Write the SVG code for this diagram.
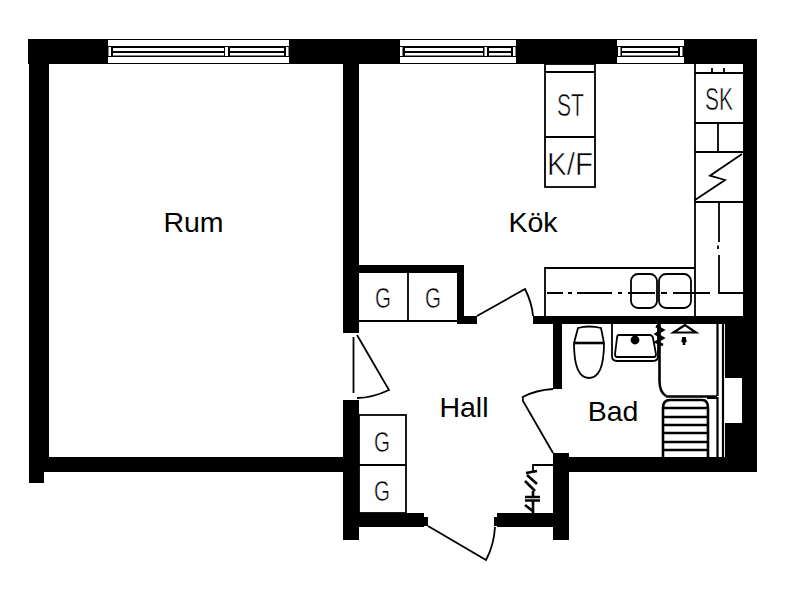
<svg xmlns="http://www.w3.org/2000/svg" width="787" height="590" viewBox="0 0 787 590">
<style>
.w{fill:#000}
.wh{fill:#fff}
.l{fill:none;stroke:#000;stroke-width:1.8}
.t{fill:none;stroke:#000;stroke-width:2.6}
.lab{font-family:"Liberation Sans",Arial,sans-serif;font-size:28.500px;fill:#000;text-anchor:middle}
.fix{font-family:"Liberation Sans",Arial,sans-serif;fill:#000;stroke:#fff;stroke-width:.6}
</style>
<rect width="787" height="590" fill="#fff"/>
<g id="walls" class="w">
<rect x="28" y="39" width="729" height="25"/>
<rect x="29" y="60" width="20" height="412"/>
<rect x="29" y="457" width="15" height="26"/>
<rect x="29" y="457" width="316" height="15"/>
<rect x="343" y="60" width="16" height="273"/>
<rect x="743" y="60" width="14" height="270"/>
<rect x="359" y="265" width="105" height="8"/>
<rect x="457" y="265" width="7" height="59"/>
<rect x="457" y="316" width="20" height="8"/>
<rect x="533" y="316" width="214" height="8"/>
<rect x="553" y="316" width="9" height="73"/>
<rect x="725" y="316" width="32" height="156"/>
<rect x="553" y="457" width="204" height="15"/>
<rect x="553" y="453" width="16" height="87"/>
<rect x="343" y="400" width="16" height="140"/>
<rect x="343" y="513" width="81" height="14"/>
<rect x="424" y="517" width="4" height="9"/>
<rect x="497" y="513" width="60" height="14"/>
<rect x="494" y="517" width="4" height="9"/>
<rect x="725" y="378" width="17" height="45" class="wh"/>
</g>
<g id="window-1">
<rect x="108" y="40" width="181" height="6" class="wh"/><rect x="108" y="57" width="181" height="6" class="wh"/>
<rect x="108.500" y="47" width="2.500" height="9" class="wh"/><rect x="286" y="47" width="2.500" height="9" class="wh"/><rect x="225" y="47" width="3" height="9" class="wh"/>
<rect x="113" y="48" width="111" height="3" class="wh"/><rect x="113" y="53" width="111" height="2.500" class="wh"/>
<rect x="230" y="48" width="54" height="3" class="wh"/><rect x="230" y="53" width="54" height="2.500" class="wh"/>
</g>
<g id="window-2">
<rect x="400" y="40" width="116" height="6" class="wh"/><rect x="400" y="57" width="116" height="6" class="wh"/>
<rect x="400" y="47" width="2.500" height="9" class="wh"/><rect x="513" y="47" width="2.500" height="9" class="wh"/><rect x="484.500" y="47" width="2.500" height="9" class="wh"/>
<rect x="405" y="48" width="78" height="3" class="wh"/><rect x="405" y="53" width="78" height="2.500" class="wh"/>
<rect x="489" y="48" width="22" height="3" class="wh"/><rect x="489" y="53" width="22" height="2.500" class="wh"/>
</g>
<g id="window-3">
<rect x="617" y="40" width="67" height="6" class="wh"/><rect x="617" y="57" width="67" height="6" class="wh"/>
<rect x="618" y="47" width="2.500" height="9" class="wh"/><rect x="680" y="47" width="2.500" height="9" class="wh"/>
<rect x="622" y="48" width="56" height="3" class="wh"/><rect x="622" y="53" width="56" height="2.500" class="wh"/>
</g>
<g id="doors" class="l">
<path d="M477 316L525 289Q532 303 533 316"/>
<path d="M357 335L389 390Q372 398 357 398M353.500 337V393"/>
<path d="M553 453L523 401L522.700 397Q536 390 553 389"/>
<path d="M428 526L486 560Q494 545 495 527"/>
</g>
<g id="closets" class="l">
<path d="M359 321H457M408 273V321"/>
<rect x="359" y="415" width="47" height="98"/>
<path d="M359 465H406"/>
</g>
<g id="kitchen" class="l">
<rect x="545" y="64" width="50" height="123"/>
<path d="M545 72H595M545 137H595"/>
<path d="M695 64V316M695 73H743M712 68V73M724 68V73M695 123H743M718 123V152M695 152H743M695 202H743"/>
<path d="M742 154L710 175.700L725 180L695 200"/>
<path d="M545 316V268H695"/>
<rect x="631" y="274" width="26" height="34" rx="7"/>
<rect x="659" y="274" width="32" height="34" rx="7"/>
<path d="M547 293H563M568 293H572M577 293H612M618 293H622M628 293H655M661 293H667M673 293H710M719 202V242M718 245.500V249M719 255V293H743"/>
</g>
<g id="bathroom" class="l">
<path d="M578 328Q589 325 601 328L604 343Q604 378 589 378Q574 378 574 343Z"/>
<path class="t" d="M575 343H603"/>
<path d="M612 324V356Q612 361 617 361H653Q658 361 658 356V324"/>
<path d="M619 335H650Q652 335 653 338L656 354Q656 357 654 357H617Q615 357 615 354L617 338Q617 335 619 335Z"/>
<circle cx="635" cy="340" r="3.500" fill="#000"/>
<path class="t" d="M659.500 324V381Q659.500 392 666 396"/>
<path class="t" d="M656 326L663 330L656 334L663 338L656 342L663 345"/>
<path d="M685 325L673.500 332.500H696Z" stroke-width="2.200"/>
<path class="t" d="M684 337V345M682 338.500H686M681.500 341H686.500"/>
<path d="M717.500 324V396M723 324V457" stroke-width="2.200"/>
<path class="t" d="M666 396.500H717M663 457V408Q663 400 670 400H702Q708 400 708 408V457"/>
<path class="t" d="M663 408H708M663 417H708M663 425H708M663 433H708M663 442H708M663 450H708"/>
<path d="M707 398H717.500V457" stroke-width="2.200"/>
</g>
<g id="meter" class="l">
<path d="M553 465H533V471"/>
<path class="t" d="M526 473L537 471M527 475L537 484M525 481L535 491M533 491V496M525 497H540M525 500.500H540M533 501V513M525 505L534 512"/>
</g>
<g id="labels">
<text class="lab" x="193.500" y="232">Rum</text>
<text class="lab" x="533" y="232">Kök</text>
<text class="lab" x="464" y="417">Hall</text>
<text class="lab" x="613" y="421">Bad</text>
<text class="fix" x="375" y="308" font-size="30" textLength="16" lengthAdjust="spacingAndGlyphs">G</text>
<text class="fix" x="425" y="308" font-size="30" textLength="16" lengthAdjust="spacingAndGlyphs">G</text>
<text class="fix" x="374" y="452" font-size="30" textLength="16" lengthAdjust="spacingAndGlyphs">G</text>
<text class="fix" x="374" y="501" font-size="30" textLength="16" lengthAdjust="spacingAndGlyphs">G</text>
<text class="fix" x="557" y="116" font-size="32" textLength="27" lengthAdjust="spacingAndGlyphs">ST</text>
<text class="fix" x="547" y="175" font-size="32" textLength="46" lengthAdjust="spacingAndGlyphs">K/F</text>
<text class="fix" x="705" y="110" font-size="32" textLength="28" lengthAdjust="spacingAndGlyphs">SK</text>
</g>
</svg>
